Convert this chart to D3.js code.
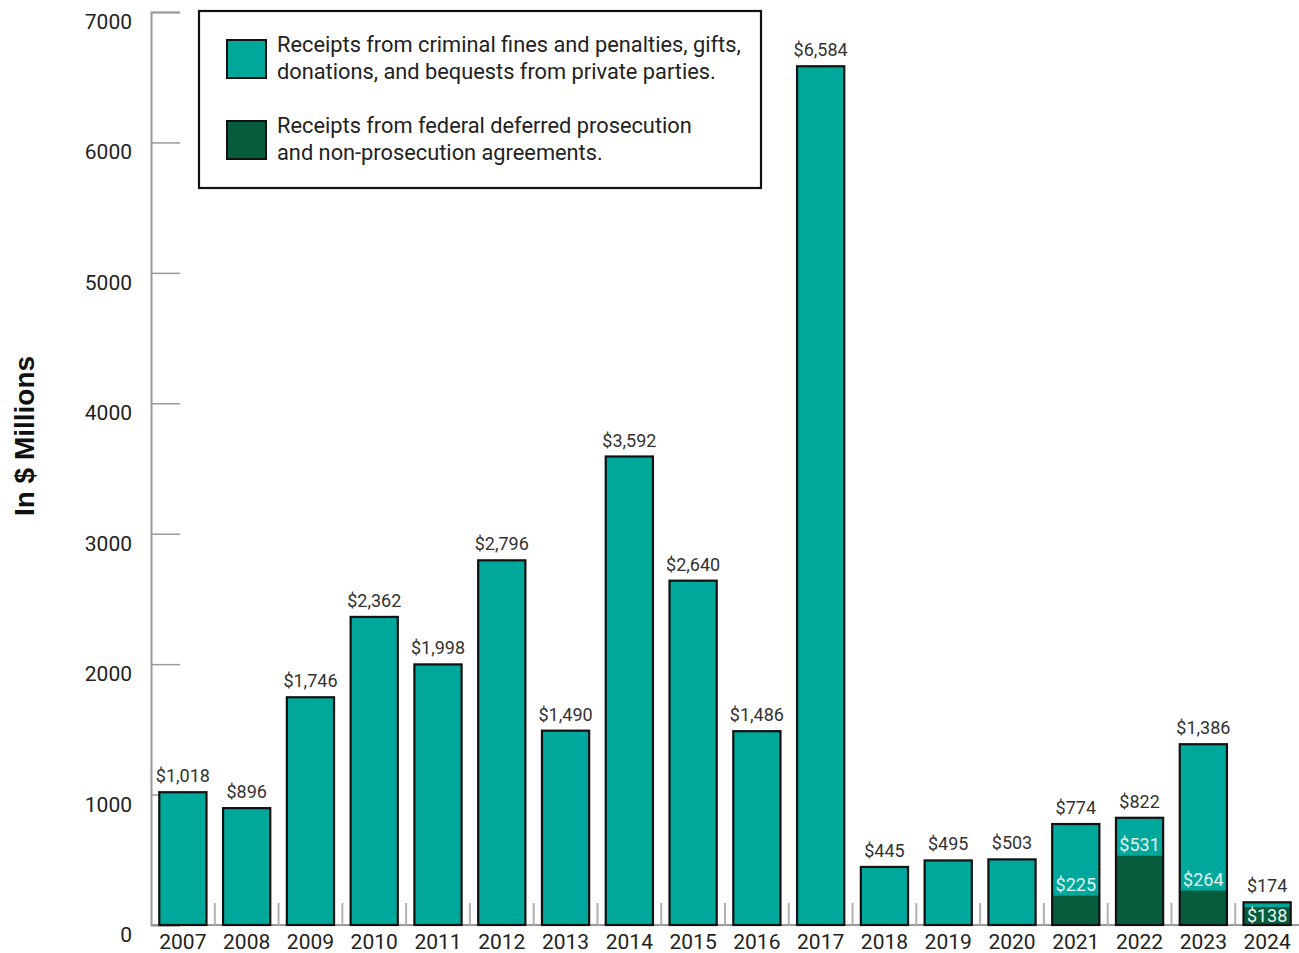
<!DOCTYPE html>
<html><head><meta charset="utf-8">
<script src="https://cdn.jsdelivr.net/npm/d3@7"></script>
<style>body{margin:0;background:#fff}svg{display:block}</style>
</head><body><svg id="c" width="1299" height="953"></svg>
<script>
const years = ["2007","2008","2009","2010","2011","2012","2013","2014","2015","2016","2017","2018","2019","2020","2021","2022","2023","2024"];
const totals = [1018,896,1746,2362,1998,2796,1490,3592,2640,1486,6584,445,495,503,774,822,1386,174];
const dpa = [0,0,0,0,0,0,0,0,0,0,0,0,0,0,225,531,264,138];
const yTicks = [0,1000,2000,3000,4000,5000,6000,7000];
const legendItems = [
  {lines:["Receipts from criminal fines and penalties, gifts,","donations, and bequests from private parties."], key:"teal"},
  {lines:["Receipts from federal deferred prosecution","and non-prosecution agreements."], key:"dark"}
];
const colors = {teal:"#00a89b", dark:"#075c3b"};

const svg = d3.select("#c");
const x = d3.scaleBand().domain(years).range([151,1299]).paddingInner(0.26).paddingOuter(0.13);
const y = d3.scaleLinear().domain([0,7000]).range([925,12]);
const fmt = d3.format("$,");

// y axis
const yAxis = svg.append("g").attr("transform","translate(151,0)")
  .call(d3.axisRight(y).tickValues(yTicks).tickSize(29).tickFormat(""));
yAxis.select(".domain").attr("stroke","#9a9a9a").attr("stroke-width",2);
yAxis.selectAll(".tick line").attr("stroke","#9a9a9a").attr("stroke-width",1.5);
svg.append("g").selectAll("text").data(yTicks).join("text")
  .attr("x",132).attr("y",d=>y(d)+17).attr("text-anchor","end")
  .attr("font-family","Roboto").attr("font-size",21).attr("fill","#222").text(d=>d);

// baseline and dividers
svg.append("line").attr("x1",151).attr("x2",1299).attr("y1",y(0)).attr("y2",y(0)).attr("stroke","#9a9a9a").attr("stroke-width",2);
const step = x.step();
svg.append("g").selectAll("line").data(years.slice(1)).join("line")
  .attr("x1",d=>x(d)-step*x.paddingInner()/2).attr("x2",d=>x(d)-step*x.paddingInner()/2)
  .attr("y1",y(0)).attr("y2",y(0)-22).attr("stroke","#b0b0b0").attr("stroke-width",2);

// bars
const g = svg.append("g");
years.forEach((yr,i)=>{
  g.append("rect").attr("x",x(yr)).attr("width",x.bandwidth())
    .attr("y",y(totals[i])).attr("height",y(0)-y(totals[i]))
    .attr("fill",colors.teal);
  if(dpa[i]>0){
    g.append("rect").attr("x",x(yr)).attr("width",x.bandwidth())
      .attr("y",y(dpa[i])).attr("height",y(0)-y(dpa[i])).attr("fill",colors.dark);
  }
  g.append("rect").attr("x",x(yr)).attr("width",x.bandwidth())
    .attr("y",y(totals[i])).attr("height",y(0)-y(totals[i]))
    .attr("fill","none").attr("stroke","#111").attr("stroke-width",2.2);
  g.append("text").attr("x",x(yr)+x.bandwidth()/2).attr("y",y(totals[i])-10)
    .attr("text-anchor","middle").attr("font-family","Roboto").attr("font-size",18)
    .attr("fill","#333").text(fmt(totals[i]));
  if(dpa[i]>0){
    const inside = (y(dpa[i]) - y(totals[i])) < 20;
    g.append("text").attr("x",x(yr)+x.bandwidth()/2)
      .attr("y", inside ? y(0)-3 : y(dpa[i])-5)
      .attr("text-anchor","middle").attr("font-family","Roboto").attr("font-size",18)
      .attr("fill","#e6f4ef").text(fmt(dpa[i]));
  }
  g.append("text").attr("x",x(yr)+x.bandwidth()/2).attr("y",949)
    .attr("text-anchor","middle").attr("font-family","Roboto").attr("font-size",21)
    .attr("fill","#222").text(yr);
});

// y title
svg.append("text").attr("transform","translate(34,436) rotate(-90)")
  .attr("text-anchor","middle").attr("font-family","Liberation Sans").attr("font-weight","bold")
  .attr("font-size",28).attr("fill","#111").text("In $ Millions");

// legend
const lg = svg.append("g");
lg.append("rect").attr("x",199).attr("y",11).attr("width",562).attr("height",177)
  .attr("fill","#fff").attr("stroke","#111").attr("stroke-width",2.2);
legendItems.forEach((it,i)=>{
  const top = 40 + i*81;
  lg.append("rect").attr("x",227).attr("y",top).attr("width",39).attr("height",38)
    .attr("fill",colors[it.key]).attr("stroke","#111").attr("stroke-width",2);
  it.lines.forEach((ln,j)=>{
    lg.append("text").attr("x",277).attr("y",top+12+j*27)
      .attr("font-family","Roboto").attr("font-size",21.8).attr("fill","#222").text(ln);
  });
});
</script></body></html>
